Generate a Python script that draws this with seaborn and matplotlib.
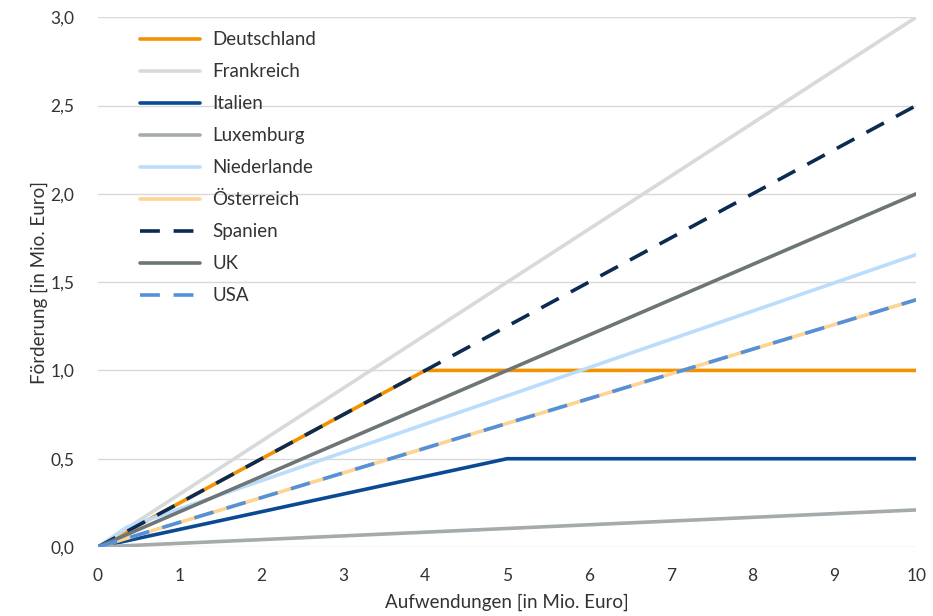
import matplotlib
matplotlib.use("Agg")
import matplotlib.pyplot as plt
import matplotlib.ticker as mticker
import pandas as pd
import seaborn as sns

# Breakpoints of each country's R&D funding curve (expenditure -> funding, in Mio. Euro)
countries = ["Deutschland", "Frankreich", "Italien", "Luxemburg", "Niederlande",
             "Österreich", "Spanien", "UK", "USA"]
x_deutschland = [0, 4, 10]
y_deutschland = [0, 1.0, 1.0]
x_frankreich = [0, 10]
y_frankreich = [0, 3.0]
x_italien = [0, 5, 10]
y_italien = [0, 0.5, 0.5]
x_luxemburg = [0, 10]
y_luxemburg = [0, 0.21]
x_niederlande = [0, 0.35, 10]
y_niederlande = [0, 0.112, 1.656]
x_oesterreich = [0, 10]
y_oesterreich = [0, 1.4]
x_spanien = [0, 10]
y_spanien = [0, 2.5]
x_uk = [0, 10]
y_uk = [0, 2.0]
x_usa = [0, 10]
y_usa = [0, 1.4]

xs = [x_deutschland, x_frankreich, x_italien, x_luxemburg, x_niederlande,
      x_oesterreich, x_spanien, x_uk, x_usa]
ys = [y_deutschland, y_frankreich, y_italien, y_luxemburg, y_niederlande,
      y_oesterreich, y_spanien, y_uk, y_usa]

colors = ["#F39200", "#D6DADB", "#0A4A92", "#A5AAAD", "#BBDDFB",
          "#FDD493", "#0C2B52", "#6D7577", "#5591DB"]
dashed = {"Spanien", "USA"}

df = pd.concat(
    [pd.DataFrame({"Land": c, "Aufwendungen": x, "Förderung": y})
     for c, x, y in zip(countries, xs, ys)],
    ignore_index=True,
)

sns.set_theme(style="white")
plt.rcParams["font.family"] = ["Lato", "DejaVu Sans"]
text_color = "#333333"

fig = plt.figure(figsize=(9.33, 6.16), dpi=100)
ax = fig.add_axes([0.105, 0.112, 0.877, 0.86])

lw = 2.6
for c, col in zip(countries, colors):
    sub = df[df["Land"] == c]
    ls = (0, (5.5, 3.8)) if c in dashed else "-"
    sns.lineplot(data=sub, x="Aufwendungen", y="Förderung", ax=ax, color=col,
                 linewidth=lw, linestyle=ls, label=c, sort=False,
                 estimator=None, zorder=3)

ax.set_xlim(0, 10)
ax.set_ylim(0, 3.0)
ax.set_xticks(range(0, 11))
ax.set_yticks([0, 0.5, 1.0, 1.5, 2.0, 2.5, 3.0])
ax.yaxis.set_major_formatter(
    mticker.FuncFormatter(lambda v, p: f"{v:.1f}".replace(".", ",")))
ax.grid(axis="y", color="#D9D9D9", linewidth=1.0, zorder=0)
ax.grid(axis="x", visible=False)
for s in ax.spines.values():
    s.set_visible(False)
ax.tick_params(axis="both", length=0, labelsize=12.5, colors=text_color)
ax.tick_params(axis="x", pad=15)
ax.tick_params(axis="y", pad=17)

ax.set_xlabel("Aufwendungen [in Mio. Euro]", fontsize=13.5, color=text_color, labelpad=7)
ax.set_ylabel("Förderung [in Mio. Euro]", fontsize=13.5, color=text_color, labelpad=2)

leg = ax.legend(loc="upper left", bbox_to_anchor=(0.042, 0.988), frameon=False,
                fontsize=13.5, handlelength=3.2, handletextpad=0.65,
                labelspacing=0.8, borderaxespad=0)
for t in leg.get_texts():
    t.set_color(text_color)

fig.savefig("out.png", dpi=100, facecolor="white")
